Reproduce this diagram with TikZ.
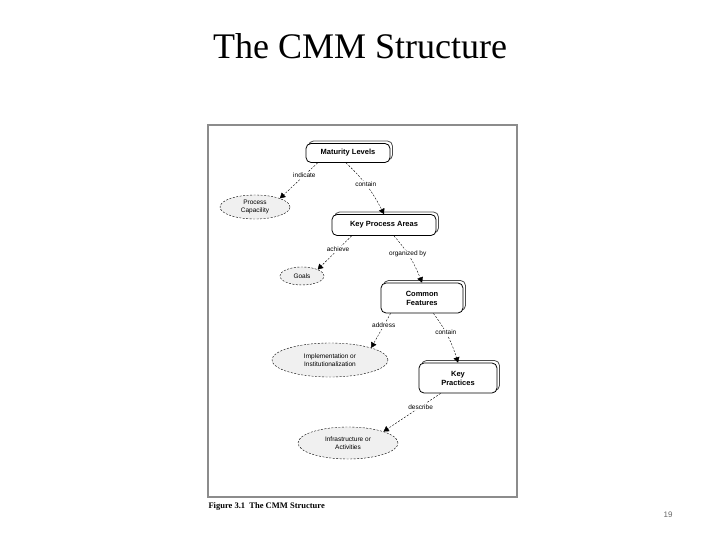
\documentclass[tikz,border=0pt]{standalone}
\usepackage{fontspec}
\setmainfont{Liberation Serif}
\newfontfamily\diagfont{Liberation Sans}
\usetikzlibrary{arrows,shapes,positioning,shadows}
\definecolor{framegray}{rgb}{0.55,0.55,0.55}
\definecolor{ovalfill}{rgb}{0.94,0.94,0.94}
\tikzset{
  area/.style={draw, thick, rounded corners=5pt, fill=white, align=center,
    font=\diagfont\bfseries\fontsize{7.5}{9}\selectfont, minimum height=19pt,
    copy shadow={shadow xshift=2.5pt, shadow yshift=2.5pt, draw=black!70, fill=white, thick}},
  oval/.style={draw, dash pattern=on 2pt off 1.5pt, ellipse, fill=ovalfill, align=center, inner sep=1pt,
    font=\diagfont\fontsize{6.5}{7.5}\selectfont},
  link/.style={dash pattern=on 2pt off 1.5pt, -triangle 60, thin},
  tag/.style={font=\diagfont\fontsize{6.5}{7.5}\selectfont, fill=white, inner sep=1pt}
}
\begin{document}
\begin{tikzpicture}[x=1pt,y=-1pt]
\useasboundingbox (0,0) rectangle (720,540);
\node[font=\fontsize{36}{40}\selectfont] (title) at (360,46) {The CMM Structure};
\draw[framegray, line width=1.5pt] (208,125) rectangle (517,497);
\node[anchor=west, font=\bfseries\fontsize{8.5}{10}\selectfont] (caption) at (205,506) {Figure 3.1\ \ The CMM Structure};
\node[font=\diagfont\fontsize{8}{9}\selectfont, text=black!60] (page) at (668,515) {19};

\node[area, minimum width=84pt] (levels) at (348,153) {Maturity Levels};
\node[oval, minimum width=70pt, minimum height=24pt] (capability) at (255,207) {Process\\Capacility};
\node[area, minimum width=104pt, minimum height=21pt] (kpa) at (384,225) {Key Process Areas};
\node[oval, minimum width=44pt, minimum height=18pt] (goals) at (302,276) {Goals};
\node[area, minimum width=82pt, minimum height=30pt] (features) at (422,298) {Common\\Features};
\node[oval, minimum width=116pt, minimum height=34pt] (impl) at (330,360) {Implementation or\\Institutionalization};
\node[area, minimum width=78pt, minimum height=30pt] (practices) at (458,378) {Key\\Practices};
\node[oval, minimum width=100pt, minimum height=32pt] (infra) at (348,443) {Infrastructure or\\Activities};

\draw[link] (levels.south west) ++(12,0) -- (capability.north east) node[tag, pos=0.35] {indicate};
\draw[link] (levels.south) ++(-2,0) to[bend left=10] node[tag, pos=0.45] {contain} (kpa.north);
\draw[link] (kpa.south west) ++(20,0) -- (goals.north east) node[tag, pos=0.4] {achieve};
\draw[link] (kpa.south) ++(10,0) to[bend left=10] node[tag, pos=0.4] {organized by} (features.north);
\draw[link] (features.south west) ++(10,0) -- (impl.north east) node[tag, pos=0.35] {address};
\draw[link] (features.south east) ++(-30,0) to[bend left=10] node[tag, pos=0.4] {contain} (practices.north);
\draw[link] (practices.south west) ++(22,0) -- (infra.north east) node[tag, pos=0.35] {describe};
\end{tikzpicture}
\end{document}
